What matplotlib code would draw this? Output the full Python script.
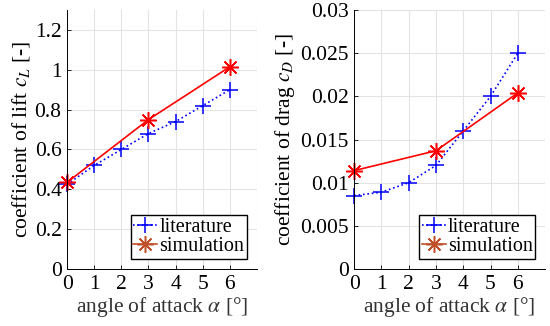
import matplotlib
matplotlib.use("Agg")
import matplotlib.pyplot as plt
from matplotlib.lines import Line2D

plt.rcParams['font.family'] = ['Liberation Serif', 'DejaVu Serif']
plt.rcParams['mathtext.fontset'] = 'stix'
plt.rcParams['font.size'] = 15.5

# angle of attack [deg]
alpha_lit = [0, 1, 2, 3, 4, 5, 6]
alpha_sim = [0, 3, 6]

# lift coefficient
cl_lit = [0.425, 0.52, 0.60, 0.68, 0.74, 0.82, 0.90]
cl_sim = [0.435, 0.75, 1.015]

# drag coefficient
cd_lit = [0.0085, 0.0089, 0.0100, 0.0120, 0.0160, 0.0200, 0.0250]
cd_sim = [0.0114, 0.0137, 0.0204]

star = (8, 2, 0)


def style_axis(axis, ylim, yticks, yticklabels, ylabel):
    axis.set_xlim(0, 7)
    axis.set_ylim(*ylim)
    axis.set_xticks(range(8))
    axis.set_xticklabels([str(i) for i in range(7)] + [''])
    axis.set_yticks(yticks)
    axis.set_yticklabels(yticklabels)
    axis.tick_params(direction='in', length=3, width=0.6, pad=4)
    axis.xaxis.get_major_ticks()[-1].tick1line.set_visible(False)
    axis.grid(color='#e3e3e3', linewidth=0.8)
    axis.set_axisbelow(True)
    for side in ('top', 'right'):
        axis.spines[side].set_visible(False)
    for side in ('left', 'bottom'):
        axis.spines[side].set_linewidth(0.7)
    axis.set_xlabel(r'angle of attack $\alpha$ [°]', labelpad=1, color='#333333')
    axis.set_ylabel(ylabel, labelpad=2)
    handles = [Line2D([], [], color='blue', linestyle=':', marker='+',
                      markersize=12, markeredgewidth=1.1, linewidth=1.2),
               Line2D([], [], color='#c0502a', linestyle='-', marker=star,
                      markersize=12, markeredgewidth=1.1, linewidth=1.2)]
    axis.legend(handles, ['literature', 'simulation'], loc='lower right',
                fontsize=14.5, fancybox=False, edgecolor='black', framealpha=1,
                handlelength=1.2, handletextpad=0.1, borderpad=0.12,
                labelspacing=0.02, borderaxespad=0.5)


fig = plt.figure(figsize=(5.5, 3.26), dpi=100)
ax1 = fig.add_axes([0.122, 0.175, 0.345, 0.794])
ax2 = fig.add_axes([0.644, 0.175, 0.347, 0.794])

ax1.plot(alpha_lit, cl_lit, color='blue', linestyle=':', marker='+',
         markersize=12, markeredgewidth=1.1, linewidth=1.2, clip_on=False)
ax1.plot(alpha_sim, cl_sim, color='red', linestyle='-', marker=star,
         markersize=12, markeredgewidth=1.1, linewidth=1.2, clip_on=False)
style_axis(ax1, (0, 1.3), [0, 0.2, 0.4, 0.6, 0.8, 1.0, 1.2],
           ['0', '0.2', '0.4', '0.6', '0.8', '1', '1.2'],
           r'coefficient of lift $c_L$ [-]')

ax2.plot(alpha_lit, cd_lit, color='blue', linestyle=':', marker='+',
         markersize=12, markeredgewidth=1.1, linewidth=1.2, clip_on=False)
ax2.plot(alpha_sim, cd_sim, color='red', linestyle='-', marker=star,
         markersize=12, markeredgewidth=1.1, linewidth=1.2, clip_on=False)
style_axis(ax2, (0, 0.03), [0, 0.005, 0.01, 0.015, 0.02, 0.025, 0.03],
           ['0', '0.005', '0.01', '0.015', '0.02', '0.025', '0.03'],
           r'coefficient of drag $c_D$ [-]')

fig.savefig('out.png', dpi=100)
